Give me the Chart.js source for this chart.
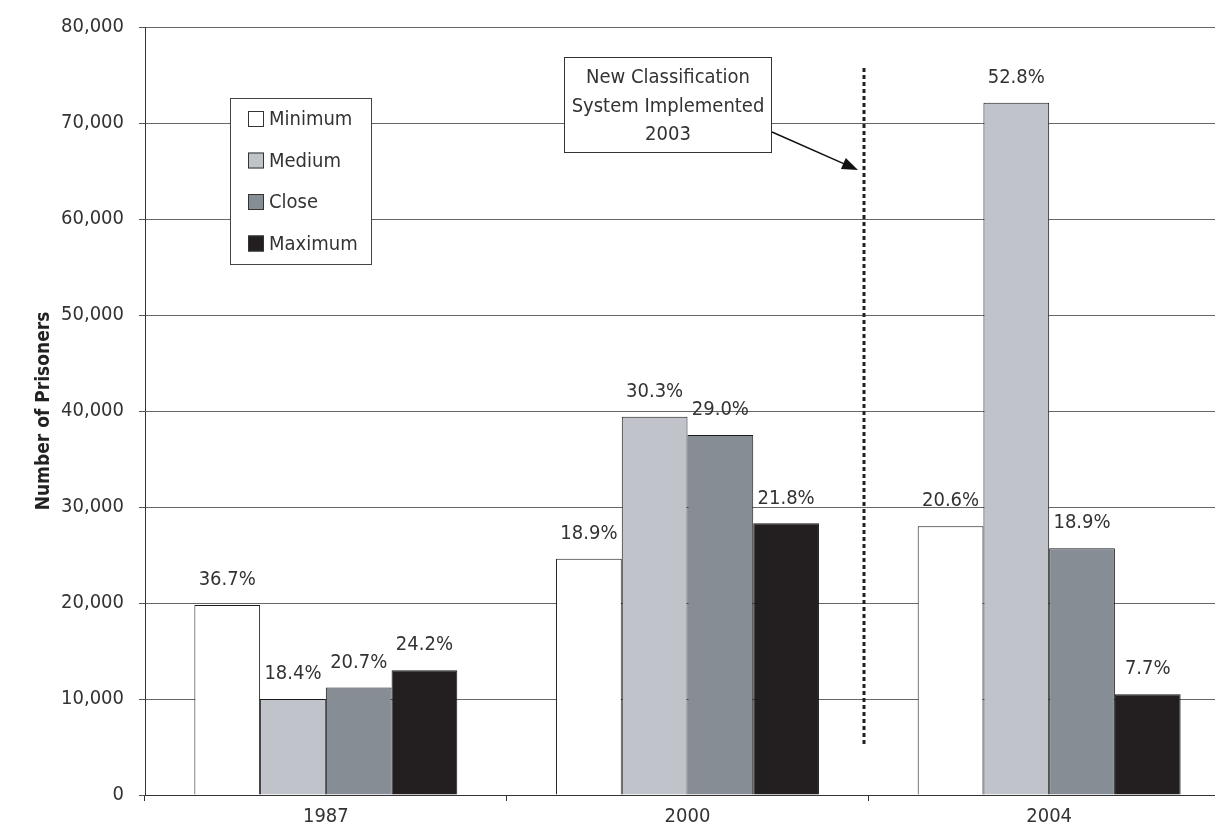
<!DOCTYPE html>
<html>
<head>
<meta charset="utf-8">
<title>Prisoners by Security Level</title>
<script src="https://cdn.jsdelivr.net/npm/chart.js@4/dist/chart.umd.min.js"></script>
<style>
  html, body { margin: 0; padding: 0; background: #fff; overflow: hidden; }
  #wrap { width: 1230px; height: 831px; }
</style>
</head>
<body>
<div id="wrap"><canvas id="prisonChart" width="1230" height="831"></canvas></div>
<script>
const categories = ['1987', '2000', '2004'];
const seriesNames = ['Minimum', 'Medium', 'Close', 'Maximum'];

// prisoner counts per security level
const minimumCounts = [19800, 24600, 28000];
const mediumCounts = [10000, 39400, 72100];
const closeCounts = [11200, 37500, 25700];
const maximumCounts = [13000, 28300, 10500];

// share of the year's total, printed over each bar
const minimumShares = ['36.7%', '18.9%', '20.6%'];
const mediumShares = ['18.4%', '30.3%', '52.8%'];
const closeShares = ['20.7%', '29.0%', '18.9%'];
const maximumShares = ['24.2%', '21.8%', '7.7%'];

const yTickValues = [0, 10000, 20000, 30000, 40000, 50000, 60000, 70000, 80000];

const noteLines = ['New Classification', 'System Implemented', '2003'];

const FONT = "'Liberation Sans Narrow', 'DejaVu Sans Condensed', sans-serif";
const TEXT = '#333';
const fills = ['#ffffff', '#c0c3ca', '#868d94', '#231f20'];

const countSets = [minimumCounts, mediumCounts, closeCounts, maximumCounts];
const shareSets = [minimumShares, mediumShares, closeShares, maximumShares];

const datasets = seriesNames.map((name, i) => ({
    label: name,
    data: countSets[i],
    shares: shareSets[i],
    backgroundColor: fills[i],
    borderColor: '#1a1a1a',
    borderWidth: 1,
    borderSkipped: 'bottom',
    categoryPercentage: 0.727,
    barPercentage: 1.0
}));

// percent labels above bars, the legend box and the 2003 note
const overlay = {
    id: 'overlay',
    afterDatasetsDraw(chart) {
        const ctx = chart.ctx;
        ctx.save();
        ctx.font = '20px ' + FONT;
        ctx.fillStyle = TEXT;
        ctx.textAlign = 'center';
        ctx.textBaseline = 'middle';
        chart.data.datasets.forEach((ds, i) => {
            chart.getDatasetMeta(i).data.forEach((bar, j) => {
                ctx.fillText(ds.shares[j], bar.x, bar.y - 25);
            });
        });
        ctx.restore();
    },
    afterDraw(chart) {
        const ctx = chart.ctx;
        const x = chart.scales.x;

        // legend
        ctx.save();
        ctx.fillStyle = '#fff';
        ctx.strokeStyle = '#444';
        ctx.lineWidth = 1;
        ctx.fillRect(230, 98, 142, 167);
        ctx.strokeRect(230.5, 98.5, 141, 166);
        ctx.font = '20px ' + FONT;
        ctx.textAlign = 'left';
        ctx.textBaseline = 'middle';
        chart.data.datasets.forEach((ds, i) => {
            const cy = 119 + i * 41.5;
            ctx.fillStyle = ds.backgroundColor;
            ctx.fillRect(248, cy - 8, 16, 16);
            ctx.strokeStyle = '#333';
            ctx.strokeRect(248.5, cy - 7.5, 15, 15);
            ctx.fillStyle = TEXT;
            ctx.fillText(ds.label, 269, cy + 1);
        });
        ctx.restore();

        // dotted divider just before 2004
        const lineX = Math.round(x.getPixelForValue(1.5)) - 4;
        ctx.save();
        ctx.strokeStyle = '#222';
        ctx.lineWidth = 3;
        ctx.setLineDash([4, 3]);
        ctx.beginPath();
        ctx.moveTo(lineX, 68);
        ctx.lineTo(lineX, 745);
        ctx.stroke();
        ctx.restore();

        // note box
        ctx.save();
        ctx.fillStyle = '#fff';
        ctx.fillRect(564, 57, 208, 96);
        ctx.strokeStyle = '#333';
        ctx.lineWidth = 1;
        ctx.strokeRect(564.5, 57.5, 207, 95);
        ctx.fillStyle = TEXT;
        ctx.font = '20px ' + FONT;
        ctx.textAlign = 'center';
        ctx.textBaseline = 'middle';
        noteLines.forEach((line, i) => ctx.fillText(line, 668, 78 + i * 28.5));

        // arrow toward the divider
        const ax0 = 772, ay0 = 132, ax1 = lineX - 6, ay1 = 170;
        const ang = Math.atan2(ay1 - ay0, ax1 - ax0);
        ctx.strokeStyle = '#111';
        ctx.fillStyle = '#111';
        ctx.lineWidth = 1.5;
        ctx.beginPath();
        ctx.moveTo(ax0, ay0);
        ctx.lineTo(ax1 - 12 * Math.cos(ang), ay1 - 12 * Math.sin(ang));
        ctx.stroke();
        ctx.beginPath();
        ctx.moveTo(ax1, ay1);
        ctx.lineTo(ax1 - 16 * Math.cos(ang) + 6 * Math.sin(ang), ay1 - 16 * Math.sin(ang) - 6 * Math.cos(ang));
        ctx.lineTo(ax1 - 16 * Math.cos(ang) - 6 * Math.sin(ang), ay1 - 16 * Math.sin(ang) + 6 * Math.cos(ang));
        ctx.closePath();
        ctx.fill();
        ctx.restore();
    }
};

new Chart(document.getElementById('prisonChart').getContext('2d'), {
    type: 'bar',
    data: { labels: categories, datasets: datasets },
    options: {
        responsive: false,
        animation: false,
        layout: { padding: { top: 27, left: 0, right: 0, bottom: 0 } },
        plugins: {
            legend: { display: false },
            tooltip: { enabled: false }
        },
        scales: {
            x: {
                offset: true,
                grid: {
                    display: true,
                    offset: true,
                    drawOnChartArea: false,
                    tickLength: 6,
                    color: '#333'
                },
                border: { display: true, color: '#333', width: 1 },
                ticks: { color: TEXT, font: { family: FONT, size: 20 }, padding: 4 },
                afterFit(scale) { scale.height = 36; }
            },
            y: {
                min: 0,
                max: 80000,
                afterBuildTicks(scale) {
                    scale.ticks = yTickValues.map(v => ({ value: v }));
                },
                grid: {
                    color: '#666',
                    tickColor: '#555',
                    tickLength: 6,
                    lineWidth: 1
                },
                border: { display: true, color: '#333', width: 1 },
                ticks: {
                    color: TEXT,
                    padding: 15,
                    font: { family: FONT, size: 20 },
                    callback: v => v.toLocaleString('en-US')
                },
                title: {
                    display: true,
                    text: 'Number of Prisoners',
                    color: '#222',
                    font: { family: FONT, size: 19, weight: 'bold' },
                    padding: { top: 33, bottom: 0 }
                },
                afterFit(scale) { scale.width = 145; }
            }
        }
    },
    plugins: [overlay]
});
</script>
</body>
</html>
